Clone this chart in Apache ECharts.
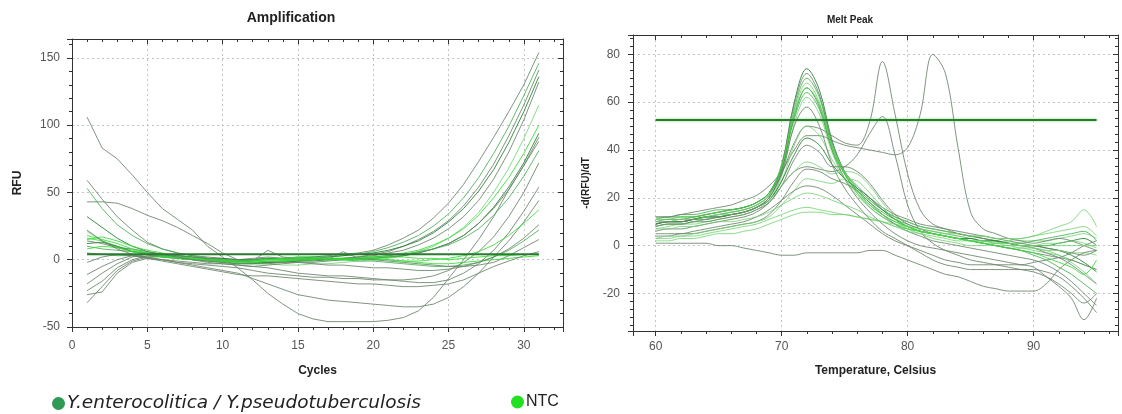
<!DOCTYPE html>
<html><head><meta charset="utf-8">
<script src="https://cdn.jsdelivr.net/npm/echarts@6/dist/echarts.min.js"></script>
<style>html,body{margin:0;padding:0;background:#fff}#c{width:1122px;height:414px}</style>
</head><body><div id="c"></div>
<script>
// ---------- data ----------
const cycles = [1,2,3,4,5,6,7,8,9,10,11,12,13,14,15,16,17,18,19,20,21,22,23,24,25,26,27,28,29,30,31];
const temps = [60,61,62,63,64,65,66,67,68,69,70,71,72,73,74,75,76,77,78,79,80,81,82,83,84,85,86,87,88,89,90,91,92,93,94,95];
const ampThreshold = 4;
const meltThreshold = 52.5;
const nameSample = 'Y.enterocolitica / Y.pseudotuberculosis';
const nameNTC = 'NTC';

const amp01 = [106,83,75,63,50,38,30,22,10,2,-6,-15,-25,-33,-40,-44,-46,-46,-46,-46,-45,-43,-38,-28,-14,0,15,32,52,70,88];
const amp02 = [59,45,32,22,13,8,5,3,2,1,0,1,2,1,2,2,3,4,5,7,11,16,22,31,42,56,73,91,110,130,154];
const amp03 = [53,38,26,18,12,8,5,3,1,0,-1,0,1,0,1,1,2,3,4,6,9,13,18,25,34,46,61,79,99,122,146];
const amp04 = [43,43,42,38,33,29,24,18,12,5,0,-2,-2,-1,-1,0,0,1,2,4,6,10,15,21,29,40,54,71,92,115,141];
const amp05 = [32,24,16,10,6,4,3,2,1,1,0,0,1,1,1,2,2,3,4,5,7,10,14,20,28,38,51,67,87,110,136];
const amp06 = [-32,-20,-8,-1,2,3,2,1,0,-1,-2,-2,-1,-1,0,0,1,1,2,3,5,7,11,16,23,32,44,60,80,104,132];
const amp07 = [21,14,9,6,4,3,2,1,0,-1,-2,-3,-3,-4,-4,-3,-3,-2,-1,0,1,3,6,10,16,24,35,50,68,90,115];
const amp08 = [16,14,10,7,5,3,2,1,0,-1,-1,-2,-2,-1,-1,0,0,1,1,2,3,5,7,11,16,23,33,46,61,79,100];
const amp09 = [12,13,10,6,4,2,1,0,-1,-2,-3,-3,-2,-2,-1,-1,0,0,1,1,2,3,5,8,12,18,27,39,54,72,94];
const amp10 = [-18,-10,-3,2,4,3,2,0,-2,-3,-4,-5,-4,-3,-2,-2,-1,0,0,1,2,3,5,8,12,18,27,38,52,70,91];
const amp11 = [5,4,3,3,2,2,1,0,0,-1,-1,0,1,1,0,0,1,1,2,2,3,4,6,8,11,16,23,33,46,62,81];
const amp12 = [-11,-5,0,3,2,0,-2,-4,-6,-8,-10,-14,-18,-22,-26,-28,-30,-31,-32,-33,-34,-35,-35,-33,-28,-20,-10,2,14,28,44];
const amp13 = [-2,2,4,3,1,0,-2,-3,-4,-5,-6,-8,-10,-11,-12,-13,-13,-14,-14,-15,-15,-15,-14,-12,-8,-2,6,17,32,50,72];
const amp14 = [-26,-24,-10,-2,1,0,-1,-2,-3,-3,-4,-5,-6,-8,-10,-11,-12,-12,-13,-14,-15,-16,-17,-17,-15,-10,-3,7,20,36,54];
const amp15 = [15,17,14,10,7,5,3,1,0,-2,-3,-2,-1,-1,0,0,1,1,1,0,0,-1,-1,0,1,3,6,11,18,27,37];
const amp16 = [10,8,7,6,5,4,3,2,1,0,-1,-1,0,1,1,1,0,0,-1,-1,-2,-3,-4,-5,-5,-4,-2,2,7,14,22];
const amp17 = [14,12,9,8,6,4,3,2,1,0,0,-1,7,2,1,1,0,6,1,0,-1,-2,-3,-4,-5,-5,-4,-2,3,9,15];
const amp18 = [18,15,12,8,5,3,2,1,0,0,-1,-1,0,0,1,1,0,0,1,2,2,2,1,1,0,1,2,3,3,4,4];
const amp19 = [8,10,9,6,4,2,1,0,-1,-1,-2,-1,0,1,2,2,1,0,0,1,0,-1,-2,-3,-3,-2,-1,0,1,2,3];
const amp20 = [22,14,8,4,1,-1,-3,-5,-7,-9,-11,-12,-12,-13,-14,-15,-16,-17,-18,-18,-19,-20,-20,-19,-18,-15,-10,-5,-1,3,6];
const amp21 = [-23,-16,-6,0,3,4,2,0,-1,-2,-3,-3,-3,-2,-2,-3,-4,-4,-5,-6,-6,-7,-8,-8,-7,-5,-2,2,8,16,26];

const melt01 = [9,10,10,11,12,13,14,15,17,21,33,60,74,65,44,31,24,19,15,12,10,8,7,6,5,4,3,2,1,0,0,-1,-2,-4,-7,-11];
const melt02 = [11,12,12,12,13,14,15,16,18,22,34,59,72,63,43,31,25,20,16,13,11,9,8,7,6,5,4,3,2,1,0,-1,-2,-3,-4,-2];
const melt03 = [8,9,9,10,11,12,13,14,16,20,31,57,70,62,42,30,22,16,12,9,7,6,5,4,3,2,1,0,-1,-2,-4,-6,-9,-12,-16,-20];
const melt04 = [10,10,11,11,12,13,14,15,17,21,32,56,68,60,42,31,24,19,15,12,10,8,7,6,5,4,4,3,3,2,2,2,3,4,5,3];
const melt05 = [9,10,10,11,12,12,13,14,16,20,31,54,66,58,40,28,20,14,9,5,2,0,-1,-2,-3,-4,-5,-6,-7,-8,-9,-13,-17,-22,-31,-22];
const melt06 = [12,12,13,13,14,15,15,16,18,22,32,53,64,57,40,30,23,18,14,11,9,7,6,5,4,3,2,2,1,1,2,3,4,5,6,2];
const melt07 = [7,8,9,9,10,11,12,13,15,19,29,51,62,55,39,28,21,16,12,9,7,6,5,4,3,2,1,0,-1,-1,-2,-3,-4,-6,-8,-10];
const melt08 = [10,11,11,12,13,14,15,16,18,22,30,43,50,49,46,43,42,52,77,55,30,15,9,7,5,4,3,2,1,0,-1,-3,-5,-8,-12,-16];
const melt09 = [12,12,13,14,15,16,17,19,21,25,31,40,46,46,44,42,41,40,39,38,41,55,80,72,41,14,7,5,3,2,1,2,3,2,0,-2];
const melt10 = [6,7,7,8,9,10,11,12,14,18,25,31,33,32,31,33,38,47,54,38,17,6,1,-2,-4,-6,-7,-8,-9,-10,-11,-13,-16,-20,-24,-20];
const melt11 = [8,9,9,10,11,12,13,14,16,19,27,42,50,46,36,28,22,17,13,10,8,6,5,4,3,2,1,0,0,-1,-1,-2,-2,-3,-3,-4];
const melt12 = [9,10,10,11,12,12,13,14,16,19,27,38,45,42,34,28,24,20,15,11,8,6,5,4,3,3,2,2,1,0,0,0,1,2,3,0];
const melt13 = [8,9,9,10,10,11,12,13,15,18,25,36,42,39,33,33,31,26,19,13,9,7,5,4,3,2,1,0,-1,-2,-3,-4,-5,-6,-8,-10];
const melt14 = [10,10,11,11,12,13,13,14,16,19,25,31,35,33,30,31,30,25,18,12,8,6,5,4,3,2,2,1,1,0,0,1,1,2,1,-1];
const melt15 = [4,4,5,5,6,7,8,9,10,13,19,27,32,31,28,26,23,18,13,9,6,4,2,1,0,-1,-2,-3,-4,-5,-6,-8,-11,-15,-20,-25];
const melt16 = [3,4,4,5,6,7,8,9,10,12,17,23,28,27,26,28,27,22,16,11,7,5,3,2,1,0,0,1,2,3,4,6,8,10,15,8];
const melt17 = [5,5,5,6,7,8,9,10,12,15,19,23,25,24,21,17,13,9,5,2,0,-2,-4,-6,-7,-8,-8,-8,-8,-8,-7,-6,-5,-3,0,2];
const melt18 = [7,7,8,8,9,10,10,11,12,14,17,20,22,21,19,17,15,12,10,8,6,5,4,3,2,2,1,1,0,0,-1,-2,-4,-7,-11,-16];
const melt19 = [3,3,4,4,5,6,7,8,9,11,13,15,16,15,14,13,12,11,10,8,7,6,5,4,3,2,2,1,1,0,0,0,0,0,0,0];
const melt20 = [2,2,3,3,4,5,5,6,7,9,11,13,14,14,13,13,12,11,10,9,8,7,6,5,5,4,4,3,3,3,4,5,6,7,8,4];
const melt21 = [1,1,1,1,1,0,0,-1,-2,-3,-4,-4,-3,-3,-3,-3,-3,-2,-2,-4,-6,-8,-10,-12,-13,-15,-17,-18,-19,-19,-19,-16,-10,-6,-3,-2];
const melt22 = [11,11,12,12,13,14,15,16,18,22,33,55,66,59,41,30,23,17,13,10,8,6,5,4,3,2,1,0,-1,-2,-3,-5,-7,-9,-12,-6];
const melt23 = [9,10,10,11,11,12,13,14,16,20,30,50,58,50,34,24,17,11,6,3,0,-3,-6,-8,-9,-10,-10,-10,-10,-10,-10,-11,-13,-17,-22,-28];

// ---------- styling ----------
const GRAY = 'rgba(105,130,105,0.85)';
const DARK = 'rgba(30,125,45,0.85)';
const MID = 'rgba(60,170,70,0.8)';
const LIGHT = 'rgba(110,210,110,0.8)';
const BRIGHT = 'rgba(50,220,50,0.85)';

const ampList = [
  [amp01, GRAY, nameSample], [amp02, GRAY, nameSample], [amp03, MID, nameSample],
  [amp04, GRAY, nameSample], [amp05, DARK, nameSample], [amp06, GRAY, nameSample],
  [amp07, LIGHT, nameSample], [amp08, BRIGHT, nameSample], [amp09, DARK, nameSample],
  [amp10, GRAY, nameSample], [amp11, MID, nameSample], [amp12, GRAY, nameSample],
  [amp13, GRAY, nameSample], [amp14, GRAY, nameSample], [amp15, BRIGHT, nameSample],
  [amp16, MID, nameSample], [amp17, GRAY, nameSample], [amp18, BRIGHT, nameNTC],
  [amp19, BRIGHT, nameNTC], [amp20, GRAY, nameSample], [amp21, GRAY, nameSample]
];
const meltList = [
  [melt01, DARK, nameSample], [melt02, GRAY, nameSample], [melt03, MID, nameSample],
  [melt04, LIGHT, nameSample], [melt05, GRAY, nameSample], [melt06, MID, nameSample],
  [melt07, LIGHT, nameSample], [melt08, GRAY, nameSample], [melt09, GRAY, nameSample],
  [melt10, GRAY, nameSample], [melt11, LIGHT, nameSample], [melt12, DARK, nameSample],
  [melt13, GRAY, nameSample], [melt14, LIGHT, nameSample], [melt15, GRAY, nameSample],
  [melt16, LIGHT, nameSample], [melt17, GRAY, nameSample], [melt18, LIGHT, nameSample],
  [melt19, LIGHT, nameNTC], [melt20, LIGHT, nameNTC], [melt21, GRAY, nameSample],
  [melt22, BRIGHT, nameSample], [melt23, GRAY, nameSample]
];

const FONT = "'Liberation Sans', Arial, sans-serif";
const FRAME = '#333';
const splitStyle = {show: true, lineStyle: {color: '#c4c4c4', type: [2, 3], width: 1}};

function mainAxis(extra) {
  return Object.assign({
    type: 'value',
    axisLine: {show: true, onZero: false, lineStyle: {color: FRAME, width: 1}},
    axisTick: {show: true, length: 5, lineStyle: {color: FRAME}},
    splitLine: splitStyle,
    nameLocation: 'middle',
    nameTextStyle: {color: '#222', fontWeight: 'bold', fontSize: 12, fontFamily: FONT}
  }, extra);
}
function mirrorAxis(extra) {
  return Object.assign({
    type: 'value',
    axisLine: {show: true, onZero: false, lineStyle: {color: FRAME, width: 1}},
    axisTick: {show: true, inside: true, length: 5, lineStyle: {color: FRAME}},
    splitLine: {show: false},
    axisLabel: {show: false}
  }, extra);
}
function minor(n) {
  return {show: true, splitNumber: n, length: 3, lineStyle: {color: FRAME, width: 1}};
}
const fmt = step => v => (Math.abs(v % step) < 1e-9 ? String(v) : '');
const labelStyle = (margin, step) => ({color: '#555', fontSize: 12, fontFamily: FONT, margin, formatter: fmt(step)});

const series = [];
ampList.forEach(([arr, color, name]) => {
  series.push({
    type: 'line', name, xAxisIndex: 0, yAxisIndex: 0, showSymbol: false, symbol: 'none',
    data: cycles.map((c, i) => [c, arr[i]]),
    lineStyle: {color, width: 1}, itemStyle: {color}, silent: true, z: 3
  });
});
series.push({
  type: 'line', xAxisIndex: 0, yAxisIndex: 0, symbol: 'none', silent: true, z: 5,
  data: [[cycles[0], ampThreshold], [cycles[cycles.length - 1], ampThreshold]],
  lineStyle: {color: '#2a7a30', width: 2}
});
meltList.forEach(([arr, color, name]) => {
  series.push({
    type: 'line', name, xAxisIndex: 2, yAxisIndex: 2, showSymbol: false, symbol: 'none',
    smooth: 0.35,
    data: temps.map((t, i) => [t, arr[i]]),
    lineStyle: {color, width: 1}, itemStyle: {color}, silent: true, z: 3
  });
});
series.push({
  type: 'line', xAxisIndex: 2, yAxisIndex: 2, symbol: 'none', silent: true, z: 5,
  data: [[temps[0], meltThreshold], [temps[temps.length - 1], meltThreshold]],
  lineStyle: {color: '#2a7a30', width: 2, shadowColor: 'rgba(90,200,90,0.7)', shadowBlur: 3}
});

const option = {
  animation: false,
  backgroundColor: '#fff',
  grid: [
    {left: 72, top: 39, width: 491, height: 288},
    {left: 633, top: 35, width: 485, height: 296}
  ],
  xAxis: [
    mainAxis({gridIndex: 0, min: 0, max: 32.6, interval: 5, minorTick: minor(5),
      axisLabel: labelStyle(13, 5), name: 'Cycles', nameGap: 38}),
    mirrorAxis({gridIndex: 0, position: 'top', min: 0, max: 32.6, interval: 5, minorTick: minor(5)}),
    mainAxis({gridIndex: 1, min: 58.2, max: 96.7, splitNumber: 4, minorTick: minor(5),
      axisLabel: labelStyle(10, 10), name: 'Temperature, Celsius', nameGap: 34}),
    mirrorAxis({gridIndex: 1, position: 'top', min: 58.2, max: 96.7, splitNumber: 4, minorTick: minor(5)})
  ],
  yAxis: [
    mainAxis({gridIndex: 0, min: -50, max: 164, interval: 50, minorTick: minor(5),
      axisLabel: labelStyle(12, 50), name: 'RFU', nameGap: 48}),
    mirrorAxis({gridIndex: 0, position: 'right', min: -50, max: 164, interval: 50, minorTick: minor(5)}),
    mainAxis({gridIndex: 1, min: -35.7, max: 88.1, splitNumber: 6, minorTick: minor(6),
      axisLabel: labelStyle(13, 20),
      name: '-d(RFU)/dT', nameGap: 42, nameTextStyle: {color: '#222', fontWeight: 'bold', fontSize: 10, fontFamily: FONT}}),
    mirrorAxis({gridIndex: 1, position: 'right', min: -35.7, max: 88.1, splitNumber: 6, minorTick: minor(6)})
  ],
  legend: [
    {left: 47, top: 389, icon: 'circle', itemWidth: 13, itemHeight: 13, itemGap: 6, selectedMode: false,
     textStyle: {fontSize: 18.5, fontFamily: "'DejaVu Sans', sans-serif", color: '#222', fontStyle: 'italic', padding: [0, 0, 0, -3]},
     data: [{name: nameSample, itemStyle: {color: '#2e9a55'}}]},
    {left: 506, top: 389, icon: 'circle', itemWidth: 13, itemHeight: 13, selectedMode: false,
     textStyle: {fontSize: 16, fontFamily: "'Liberation Sans', Arial, sans-serif", color: '#222', padding: [0, 0, 0, -3]},
     data: [{name: nameNTC, itemStyle: {color: '#22e022'}}]}
  ],
  graphic: [
    {type: 'text', x: 291, y: 18, silent: true,
     style: {text: 'Amplification', font: 'bold 14px ' + FONT, fill: '#222', align: 'center', verticalAlign: 'middle'}},
    {type: 'text', x: 850, y: 20, silent: true,
     style: {text: 'Melt Peak', font: 'bold 10px ' + FONT, fill: '#222', align: 'center', verticalAlign: 'middle'}}
  ],
  series
};
const chart = echarts.init(document.getElementById('c'));
chart.setOption(option);
</script>
</body></html>
